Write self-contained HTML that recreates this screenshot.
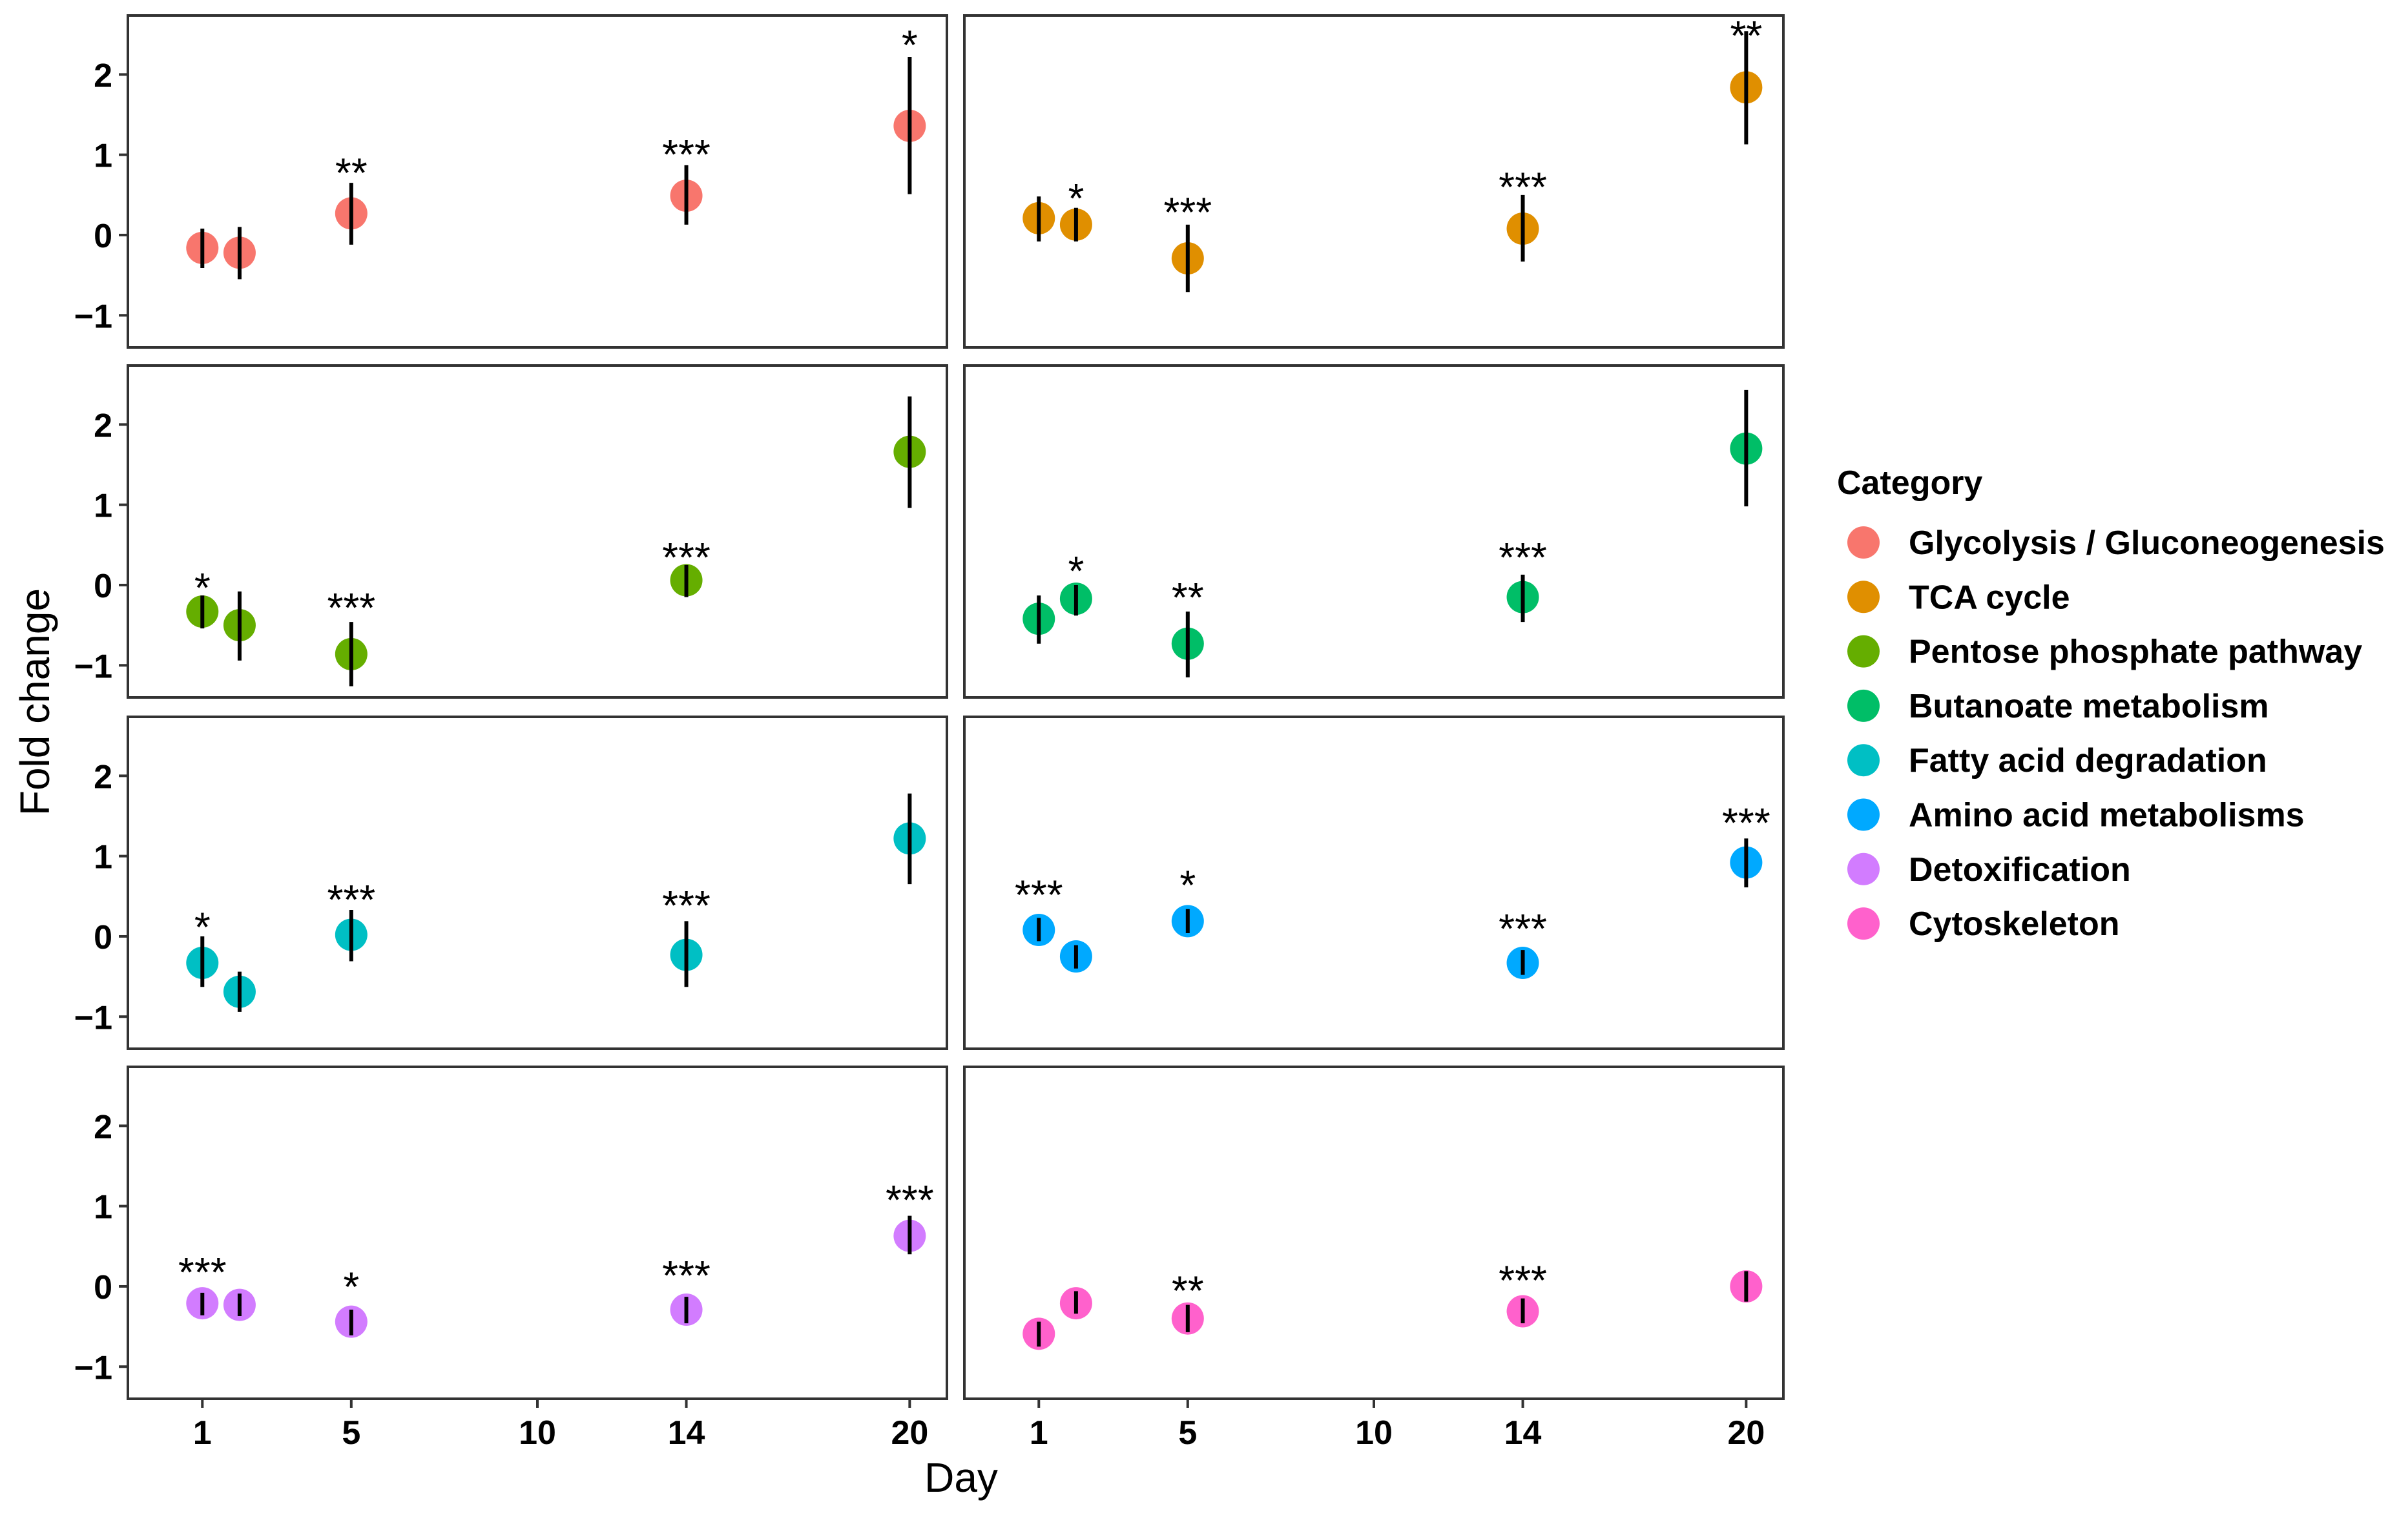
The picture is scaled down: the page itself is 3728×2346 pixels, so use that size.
<!DOCTYPE html>
<html><head><meta charset="utf-8"><style>
html,body{margin:0;padding:0;background:#fff;}
svg{display:block;}
text{font-family:"Liberation Sans",Arial,sans-serif;}
</style></head><body>
<svg id="chart" width="3728" height="2346" viewBox="0 0 3728 2346" xmlns="http://www.w3.org/2000/svg">
<rect x="0" y="0" width="3728" height="2346" fill="#fff"/>
<text x="0" y="0" transform="translate(76,1087) rotate(-90)" text-anchor="middle" font-size="64" fill="#000">Fold change</text>
<text x="1488" y="2310" text-anchor="middle" font-size="64" fill="#000">Day</text>
</svg>
<script>
const categories = ["Glycolysis / Gluconeogenesis","TCA cycle","Pentose phosphate pathway","Butanoate metabolism","Fatty acid degradation","Amino acid metabolisms","Detoxification","Cytoskeleton"];
const colors = ["#F8766D","#E08F00","#65AE00","#00BE67","#00BFC4","#00A9FF","#D27CFF","#FF61CC"];
const days = [1,2,5,14,20];
const means = [
 [-0.16,-0.22,0.27,0.49,1.36],
 [0.21,0.13,-0.29,0.08,1.84],
 [-0.33,-0.50,-0.86,0.06,1.66],
 [-0.42,-0.17,-0.73,-0.15,1.70],
 [-0.33,-0.69,0.02,-0.23,1.22],
 [0.08,-0.25,0.19,-0.33,0.92],
 [-0.21,-0.23,-0.44,-0.29,0.63],
 [-0.59,-0.21,-0.40,-0.31,0.00]
];
const upper = [
 [0.08,0.10,0.65,0.87,2.22],
 [0.48,0.34,0.13,0.50,2.54],
 [-0.13,-0.08,-0.46,0.25,2.35],
 [-0.13,0.00,-0.33,0.13,2.43],
 [0.00,-0.44,0.33,0.19,1.78],
 [0.23,-0.11,0.34,-0.17,1.22],
 [-0.08,-0.09,-0.29,-0.13,0.88],
 [-0.44,-0.06,-0.23,-0.15,0.19]
];
const lower = [
 [-0.41,-0.55,-0.12,0.13,0.51],
 [-0.08,-0.08,-0.71,-0.33,1.13],
 [-0.54,-0.94,-1.26,-0.15,0.96],
 [-0.73,-0.38,-1.15,-0.46,0.98],
 [-0.63,-0.94,-0.31,-0.63,0.65],
 [-0.06,-0.40,0.04,-0.48,0.61],
 [-0.36,-0.37,-0.61,-0.46,0.40],
 [-0.75,-0.34,-0.57,-0.46,-0.19]
];
const stars = [
 ["","","**","***","*"],
 ["","*","***","***","**"],
 ["*","","***","***",""],
 ["","*","**","***",""],
 ["*","","***","***",""],
 ["***","","*","***","***"],
 ["***","","*","***","***"],
 ["","","**","***",""]
];
const starY = [
 [0,0,0.89,1.12,2.48],
 [0,0.57,0.40,0.71,2.60],
 [0.08,0,-0.17,0.46,0],
 [0,0.29,-0.04,0.46,0],
 [0.23,0,0.57,0.50,0],
 [0.63,0,0.75,0.21,1.53],
 [0.29,0,0.11,0.25,1.19],
 [0,0,0.06,0.19,0]
];
const yTicks = [-1,0,1,2];
const xTicks = [1,5,10,14,20];

const NS="http://www.w3.org/2000/svg";
const svg=document.getElementById("chart");
const colLeft=[198,1493], rowTop=[24,566,1110,1652], PW=1268, PH=514;
const xDom=[-1,21], yDom=[-1.40,2.735];
function xs(p,d){return colLeft[p%2]+(d-xDom[0])/(xDom[1]-xDom[0])*PW;}
function ys(p,v){return rowTop[Math.floor(p/2)]+(yDom[1]-v)/(yDom[1]-yDom[0])*PH;}
function mk(tag,attrs,parent){const e=document.createElementNS(NS,tag);for(const k in attrs)e.setAttribute(k,attrs[k]);(parent||svg).appendChild(e);return e;}

for(let p=0;p<8;p++){
  const g=mk("g",{});
  
  
  const L=colLeft[p%2], T=rowTop[Math.floor(p/2)];
  const fr=mk("rect",{x:L,y:T,width:PW,height:PH,fill:"#fff",stroke:"#333","stroke-width":4},g);
  
  
  if(p%2===0){
    yTicks.forEach(t=>{
      const y=ys(p,t);
      const tk=mk("line",{x1:L-14,x2:L,y1:y,y2:y,stroke:"#333","stroke-width":4},g);
      
      
      const tl=mk("text",{x:L-24,y:y+19,"text-anchor":"end","font-size":52,"font-weight":"bold",fill:"#000"},g);
      tl.textContent=(t<0?"\u2212"+Math.abs(t):String(t));
      
      
    });
  }
  if(p>=6){
    xTicks.forEach(t=>{
      const x=xs(p,t);
      const tk=mk("line",{x1:x,x2:x,y1:T+PH,y2:T+PH+14,stroke:"#333","stroke-width":4},g);
      
      
      const tl=mk("text",{x:x,y:2236,"text-anchor":"middle","font-size":52,"font-weight":"bold",fill:"#000"},g);
      tl.textContent=String(t);
      
      
    });
  }
  days.forEach((d,i)=>{
    const x=xs(p,d);
    const c=mk("ellipse",{cx:x,cy:ys(p,means[p][i]),rx:25,ry:25,fill:colors[p]},g);
    
    
    const eb=mk("line",{x1:x,x2:x,y1:ys(p,upper[p][i]),y2:ys(p,lower[p][i]),stroke:"#000","stroke-width":6},g);
    
    
    if(stars[p][i]){
      const s=mk("text",{x:x,y:ys(p,starY[p][i])+36,"text-anchor":"middle","font-size":64,fill:"#000"},g);
      s.textContent=stars[p][i];
      
      
    }
  });
}
const lg=mk("g",{});


const lt=mk("text",{x:2844,y:765,"font-size":52,"font-weight":"bold",fill:"#000"},lg);
lt.textContent="Category";


categories.forEach((c,i)=>{
  const y=840+i*84.3;
  const dot=mk("circle",{cx:2885,cy:y,r:25,fill:colors[i]},lg);
  
  
  const t=mk("text",{x:2955,y:y+18,"font-size":52,"font-weight":"bold",fill:"#000"},lg);
  t.textContent=c;
  
  
});
</script>
</body></html>
